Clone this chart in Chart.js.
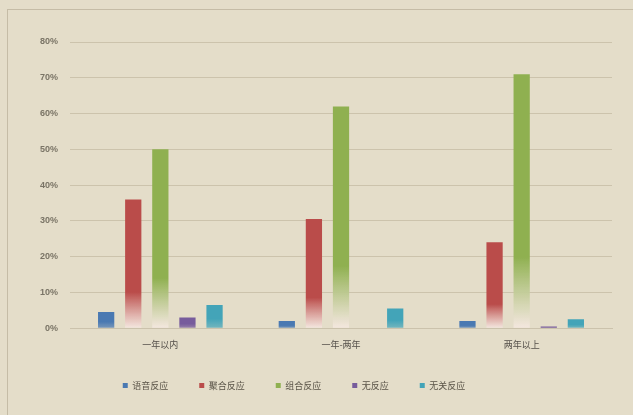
<!DOCTYPE html>
<html>
<head>
<meta charset="utf-8">
<script src="https://cdn.jsdelivr.net/npm/chart.js@4.4.1/dist/chart.umd.min.js"></script>
<style>
  html, body { margin: 0; padding: 0; background: #e4ddc9; overflow: hidden; }
  #frame {
    position: absolute; left: 7px; top: 9px; width: 700px; height: 500px;
    border-left: 1px solid #c5bca6; border-top: 1px solid #c5bca6;
  }
  #wrap { position: absolute; left: 0; top: 0; width: 633px; height: 415px; }
</style>
</head>
<body>
<div id="frame"></div>
<div id="wrap"><canvas id="myChart" width="633" height="415"></canvas></div>
<script>
//////////////////////
// data
//////////////////////
const groups = ['一年以内', '一年-两年', '两年以上'];
const seriesNames = ['语音反应', '聚合反应', '组合反应', '无反应', '无关反应'];
const yuyin = [4.5, 2, 2];
const juhe = [36, 30.5, 24];
const zuhe = [50, 62, 71];
const wu = [3, 0, 0.5];
const wuguan = [6.5, 5.5, 2.5];
const yTicks = [0, 10, 20, 30, 40, 50, 60, 70, 80];

const seriesValues = [yuyin, juhe, zuhe, wu, wuguan];
const seriesColors = ['#4a79b2', '#ba4c4a', '#8fb050', '#775c9c', '#43a4b8'];

// tall bars fade out to pale near the base, short ones stay mostly solid
function fadeFill(color) {
  return function (ctx) {
    const chart = ctx.chart;
    if (!chart.chartArea || ctx.type !== 'data') {
      return color;
    }
    const y = chart.scales.y;
    const top = y.getPixelForValue(ctx.parsed.y);
    const base = y.getPixelForValue(0);
    const h = base - top;
    if (h < 1) {
      return color;
    }
    const g = chart.ctx.createLinearGradient(0, top, 0, base);
    g.addColorStop(0, color);
    if (h > 60) {
      g.addColorStop(0.72, color);
      g.addColorStop(1, 'rgba(245, 232, 225, 0.9)');
    } else {
      g.addColorStop(0.6, color);
      g.addColorStop(1, color + 'b0');
    }
    return g;
  };
}

// move the legend row a bit left and up
const legendShift = {
  id: 'legendShift',
  afterLayout: function (chart) {
    chart.legend.left -= 26;
    chart.legend.right -= 26;
    chart.legend.top -= 11;
    chart.legend.bottom -= 11;
  }
};

const datasets = [];
for (let i = 0; i < seriesNames.length; i++) {
  datasets.push({
    label: seriesNames[i],
    data: seriesValues[i],
    backgroundColor: fadeFill(seriesColors[i]),
    borderWidth: 0,
    categoryPercentage: 0.75,
    barPercentage: 0.6
  });
}

const config = {
  type: 'bar',
  data: { labels: groups, datasets: datasets },
  options: {
    responsive: false,
    animation: false,
    layout: { padding: { left: 28, right: 21, top: 42, bottom: 4 } },
    plugins: {
      tooltip: { enabled: false },
      legend: {
        position: 'bottom',
        labels: {
          usePointStyle: true,
          pointStyle: 'rect',
          boxWidth: 5,
          boxHeight: 5,
          padding: 31,
          color: '#5a5448',
          font: { family: '"Noto Sans CJK SC", sans-serif', size: 9 },
          generateLabels: function (chart) {
            return seriesNames.map(function (name, i) {
              return {
                text: name,
                fillStyle: seriesColors[i],
                strokeStyle: seriesColors[i],
                lineWidth: 0,
                pointStyle: 'rect',
                datasetIndex: i,
                fontColor: '#5a5448'
              };
            });
          }
        }
      }
    },
    scales: {
      x: {
        grid: { display: false, drawTicks: false },
        border: { color: '#cbc2ac', width: 1 },
        ticks: {
          color: '#55504a',
          padding: 11,
          font: { family: '"Noto Sans CJK SC", sans-serif', size: 9 }
        }
      },
      y: {
        min: 0,
        max: 80,
        afterBuildTicks: function (axis) {
          axis.ticks = yTicks.map(function (v) { return { value: v }; });
        },
        grid: { color: '#ccc3ac', lineWidth: 1, drawTicks: false },
        border: { display: false },
        ticks: {
          color: '#7a7466',
          padding: 12,
          font: { family: 'Arial, "Liberation Sans", sans-serif', size: 9, weight: 'bold' },
          callback: function (v) { return v + '%'; }
        }
      }
    }
  },
  plugins: [legendShift]
};

const canvasChart = document.getElementById('myChart');
const myChart = new Chart(canvasChart, config);
</script>
</body>
</html>
